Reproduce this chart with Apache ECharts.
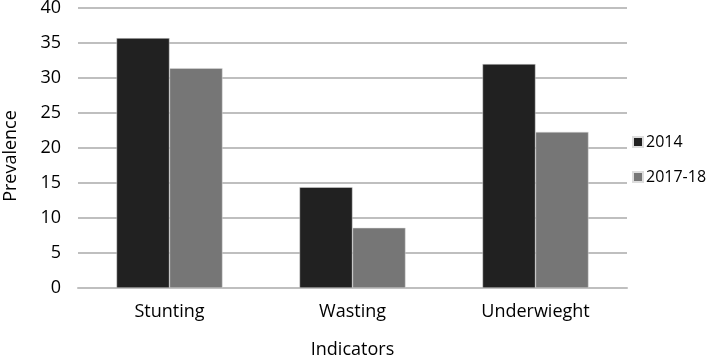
<!DOCTYPE html>
<html>
<head>
<meta charset="utf-8">
<script src="https://cdn.jsdelivr.net/npm/echarts@6/dist/echarts.min.js"></script>
<style>
html,body{margin:0;padding:0;background:#fff;}
#main{width:708px;height:364px;}
</style>
</head>
<body>
<div id="main"></div>
<script>
var categories = ['Stunting', 'Wasting', 'Underwieght'];
var seriesNames = ['2014', '2017-18'];
var v2014 = [35.7, 14.4, 32.0];
var v2017 = [31.4, 8.6, 22.3];

var fnt = 'Open Sans';
var myChart = echarts.init(document.getElementById('main'));
var option = {
	animation: false,
	textStyle: {fontFamily: fnt},
	grid: {left: 78, right: 81, top: 8, bottom: 76, containLabel: false, outerBoundsMode: 'none'},
	legend: {
		data: seriesNames,
		orient: 'vertical',
		left: 627,
		top: 129,
		itemWidth: 10,
		itemHeight: 10,
		itemGap: 19,
		icon: 'rect',
		textStyle: {fontFamily: fnt, fontSize: 16, color: '#000', padding: [0, 0, 0, -2]}
	},
	xAxis: {
		type: 'category',
		data: categories,
		name: 'Indicators',
		nameLocation: 'middle',
		nameGap: 53,
		nameTextStyle: {fontFamily: fnt, fontSize: 18, color: '#000'},
		axisLine: {show: true, lineStyle: {color: '#bfbfbf', width: 2}},
		axisTick: {show: false},
		axisLabel: {fontFamily: fnt, fontSize: 18, color: '#000', margin: 15}
	},
	yAxis: {
		type: 'value',
		min: 0,
		max: 40,
		interval: 5,
		name: 'Prevalence',
		nameLocation: 'middle',
		nameGap: 58,
		nameTextStyle: {fontFamily: fnt, fontSize: 18, color: '#000', padding: [0, 16, 0, 0]},
		axisLine: {show: false},
		axisTick: {show: false},
		splitLine: {lineStyle: {color: '#bfbfbf', width: 2}},
		axisLabel: {fontFamily: fnt, fontSize: 18, color: '#000', margin: 17}
	},
	series: [
		{
			name: '2014',
			type: 'bar',
			data: v2014,
			barWidth: 53,
			barGap: '0%',
			itemStyle: {color: '#212121', borderColor: '#dddddd', borderWidth: 0.5}
		},
		{
			name: '2017-18',
			type: 'bar',
			data: v2017,
			barWidth: 53,
			barGap: '0%',
			itemStyle: {color: '#767676', borderColor: '#dddddd', borderWidth: 0.5}
		}
	]
};
myChart.setOption(option);
</script>
</body>
</html>
